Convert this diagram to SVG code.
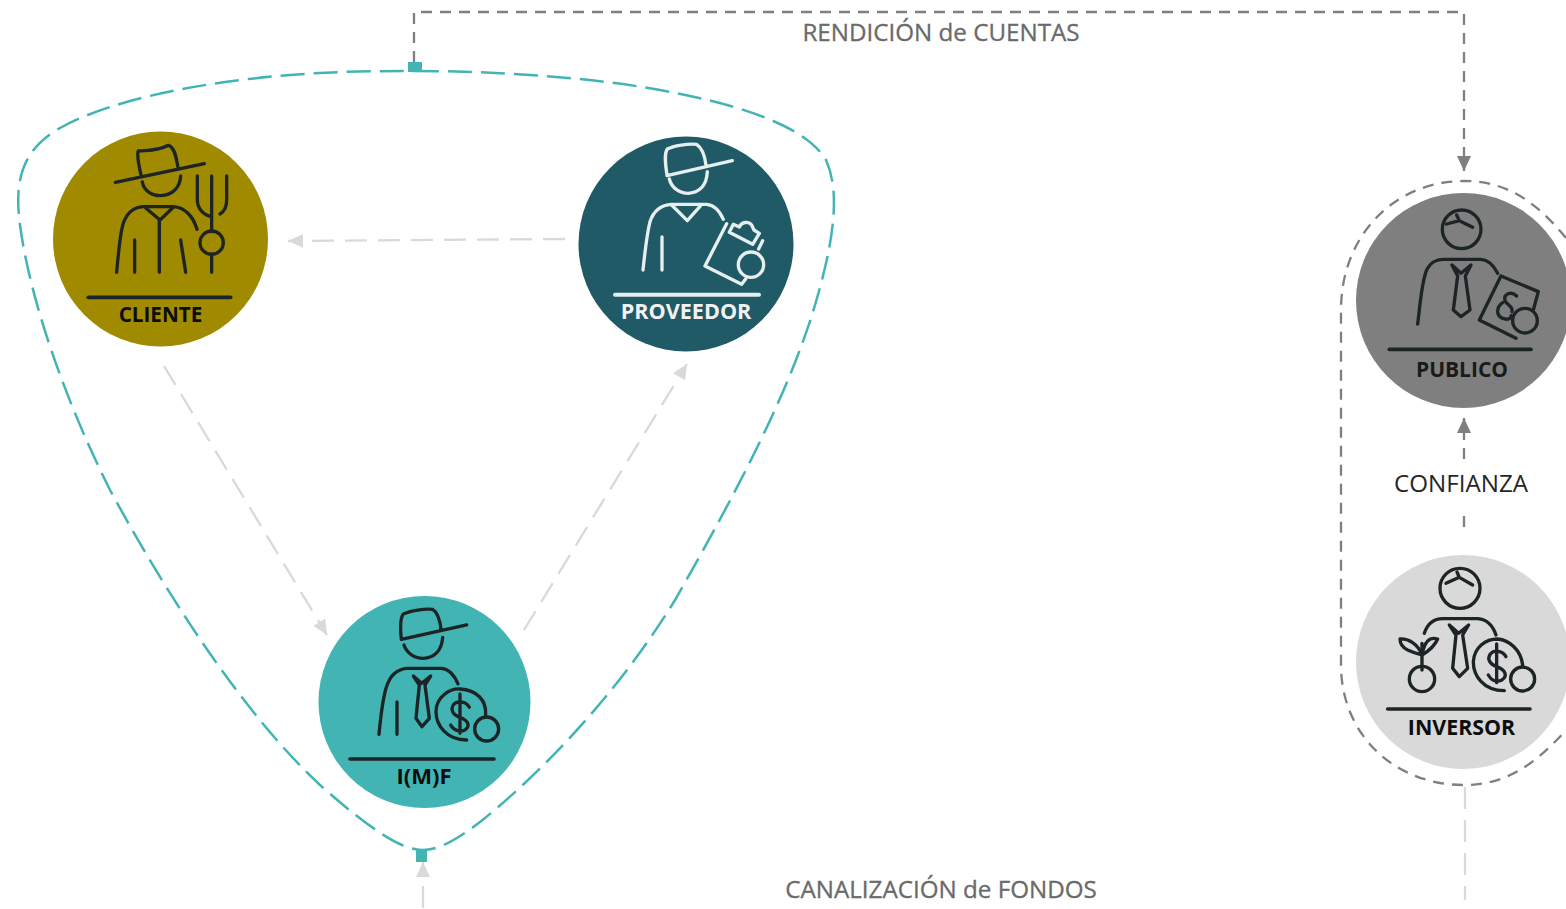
<svg xmlns="http://www.w3.org/2000/svg" width="1566" height="909" viewBox="0 0 1566 909">
<style>
text{font-family:"Open Sans","Noto Sans","Liberation Sans",sans-serif}
.name{font-weight:700;text-anchor:middle;fill:#0d0d0d}
.cap{font-size:24.200px;text-anchor:middle;fill:#6a6a6a;stroke:#6a6a6a;stroke-width:.3}
.ic{fill:none;stroke:#1c2426;stroke-width:10;stroke-linecap:round;stroke-linejoin:round}
.w{stroke:#e6eeee}
.g{fill:none;stroke:#7f7f7f;stroke-width:2.300;stroke-dasharray:11 8}
.l{fill:none;stroke:#d9d9d9;stroke-width:2.300;stroke-dasharray:22 11}
.t{fill:none;stroke:#43b4b4;stroke-width:2.500;stroke-dasharray:24 9}
</style>
<defs>
<marker id="ag" markerUnits="userSpaceOnUse" markerWidth="15" markerHeight="14" refX="15" refY="7" orient="auto"><path d="M0 0L15 7L0 14Z" fill="#7f7f7f"/></marker>
<marker id="al" markerUnits="userSpaceOnUse" markerWidth="15" markerHeight="14" refX="15" refY="7" orient="auto"><path d="M0 0L15 7L0 14Z" fill="#d9d9d9"/></marker>
</defs>
<g id="connectors">
<path class="t" d="M415 71C500 71 610 78 690 96C755 110 808 130 826 160C842 195 832 250 812 315C785 400 735 495 675 600C620 690 545 770 480 822C450 845 435 850 422 850C400 850 365 825 320 785C250 720 175 610 110 490C65 400 30 300 20 225C14 180 22 150 60 128C110 100 200 82 290 75C340 71 380 71 415 71Z"/>
<rect x="408" y="62" width="14" height="10" fill="#43b4b4"/>
<rect x="416" y="849" width="11" height="13" fill="#43b4b4"/>
<path class="g" d="M414 62V12H1464V171" marker-end="url(#ag)"/>
<path class="g" d="M1566 238C1535 200 1505 181 1464 181C1395 181 1341 235 1341 310V665C1341 735 1395 785 1464 785C1505 785 1535 765 1566 730"/>
<path class="g" d="M1464 527V513"/>
<path class="g" d="M1464 459V418" marker-end="url(#ag)"/>
<path class="l" d="M1465 787V900"/>
<path class="l" d="M423 908V862" marker-end="url(#al)"/>
<path class="l" d="M565 239L288 241" marker-end="url(#al)"/>
<path class="l" d="M164 366L327 635" marker-end="url(#al)"/>
<path class="l" d="M524 630L687 364" marker-end="url(#al)"/>
</g>
<g id="cliente">
<circle cx="160.500" cy="239" r="107.500" fill="#a08a00"/>
<g class="ic" transform="translate(40 120) scale(.3333)">
<path d="M226 187L493 131M303 165C295 130 290 105 295 93C320 90 350 95 385 76C405 80 410 120 415 148M307 186C312 215 340 228 362 227C395 226 420 205 422 168M230 457C235 400 240 340 250 310C260 280 280 262 310 260H400C435 262 460 290 471 328M318 265L360 300L400 262M358 300V457M284 360V457M422 360L437 457M472 168V240C472 265 490 285 515 290M515 168V335M515 402V457M560 168V240C560 260 552 275 540 282"/>
<circle cx="515" cy="368" r="35"/>
<path d="M145 532H572" stroke-width="11"/>
</g>
<text class="name" x="160.500" y="322" font-size="20.700">CLIENTE</text>
</g>
<g id="proveedor">
<circle cx="686" cy="244" r="107.500" fill="#1f5a66"/>
<g class="ic w" transform="translate(570 125) scale(.3333)">
<path d="M291 152L487 107M291 150C285 110 283 85 292 72C310 62 355 55 380 58C398 70 405 95 408 120M298 162C305 190 330 205 355 205C385 203 410 185 412 140M219 435C225 380 230 330 240 290C250 260 270 240 305 238H410C435 240 450 260 460 283M305 240L352 287L392 242M276 336V435M470 296L405 423L515 478M515 478L527 462M578 347L566 372M478 322L490 298L508 306C515 290 535 288 545 300L552 315L568 325L548 358Z"/>
<circle cx="543" cy="419" r="38"/>
<path d="M135 509H567" stroke-width="12"/>
</g>
<text class="name" x="686" y="319" font-size="21.600" style="fill:#f2f2f2">PROVEEDOR</text>
</g>
<g id="imf">
<circle cx="424.500" cy="702" r="106" fill="#43b4b4"/>
<g class="ic" transform="translate(310 590) scale(.3333)">
<path d="M274 148L470 105M274 148C270 110 270 85 280 72C300 62 345 55 368 58C385 68 390 90 393 118M282 165C290 190 315 205 340 205C370 203 395 185 398 142M207 433C212 380 218 330 228 295C238 260 258 238 290 235H395C420 238 435 260 444 282M261 336V433M310 258L335 280L362 258L345 285L358 385L336 410L318 385L328 285Z"/>
<path d="M470 450C410 450 378 405 378 365C378 320 420 295 450 297C500 300 530 330 527 375"/>
<path d="M478 352C470 335 445 330 432 342C420 358 428 375 450 382C475 392 482 408 465 420C448 428 430 420 422 405M450 312V430"/>
<circle cx="530" cy="417" r="36"/>
<path d="M120 507H552" stroke-width="11"/>
</g>
<text class="name" x="424" y="784" font-size="22">I(M)F</text>
</g>
<g id="publico">
<circle cx="1463.500" cy="300.500" r="107.500" fill="#7f7f7f"/>
<g class="ic" transform="translate(1326 170) scale(.3333)">
<circle cx="407" cy="178" r="58"/>
<path d="M362 162L400 152L440 172M400 152L392 135M275 462C282 410 285 350 300 305C310 280 325 268 355 268H465C490 270 505 290 515 310M378 285L405 310L435 285L418 318L432 420L405 440L382 420L395 318ZM525 318L637 365L622 420M525 318L460 450L570 505"/>
<path d="M572 378C555 362 532 372 537 392C542 405 562 408 558 425M530 398C510 412 510 438 530 445C545 452 556 445 556 436"/>
<circle cx="597" cy="452" r="37"/>
<path d="M190 538H615" stroke-width="11"/>
</g>
<text class="name" x="1462" y="377" font-size="21" style="fill:#1a1a1a">PUBLICO</text>
</g>
<g id="inversor">
<circle cx="1463" cy="662" r="107" fill="#d9d9d9"/>
<g class="ic" transform="translate(1326 540) scale(.3333)">
<circle cx="402" cy="145" r="60"/>
<path d="M360 130L400 112L440 135M400 112L393 96M295 280C305 250 325 236 350 236H455C480 238 500 255 510 285M370 255L398 280L428 255L410 285L425 385L400 410L380 385L390 285ZM288 390V310"/>
<path d="M288 345C270 340 262 338 245 330C225 320 222 305 222 297C245 295 275 310 288 345ZM288 345C305 335 325 320 335 297C310 290 295 305 288 345Z"/>
<circle cx="288" cy="417" r="38"/>
<path d="M535 452C470 452 442 405 442 365C445 320 480 297 515 297C550 300 585 330 590 375"/>
<path d="M540 350C530 332 505 328 493 342C482 358 492 372 512 380C540 390 545 408 528 420C510 428 495 420 487 405M512 312V428"/>
<circle cx="590" cy="417" r="36"/>
<path d="M185 507H612" stroke-width="11"/>
</g>
<text class="name" x="1461.500" y="735" font-size="21.400">INVERSOR</text>
</g>
<g id="labels">
<text class="cap" x="941" y="41">RENDICIÓN de CUENTAS</text>
<text class="cap" x="941" y="898">CANALIZACIÓN de FONDOS</text>
<text x="1461" y="492" font-size="24.200" text-anchor="middle" fill="#262626">CONFIANZA</text>
</g>
</svg>
